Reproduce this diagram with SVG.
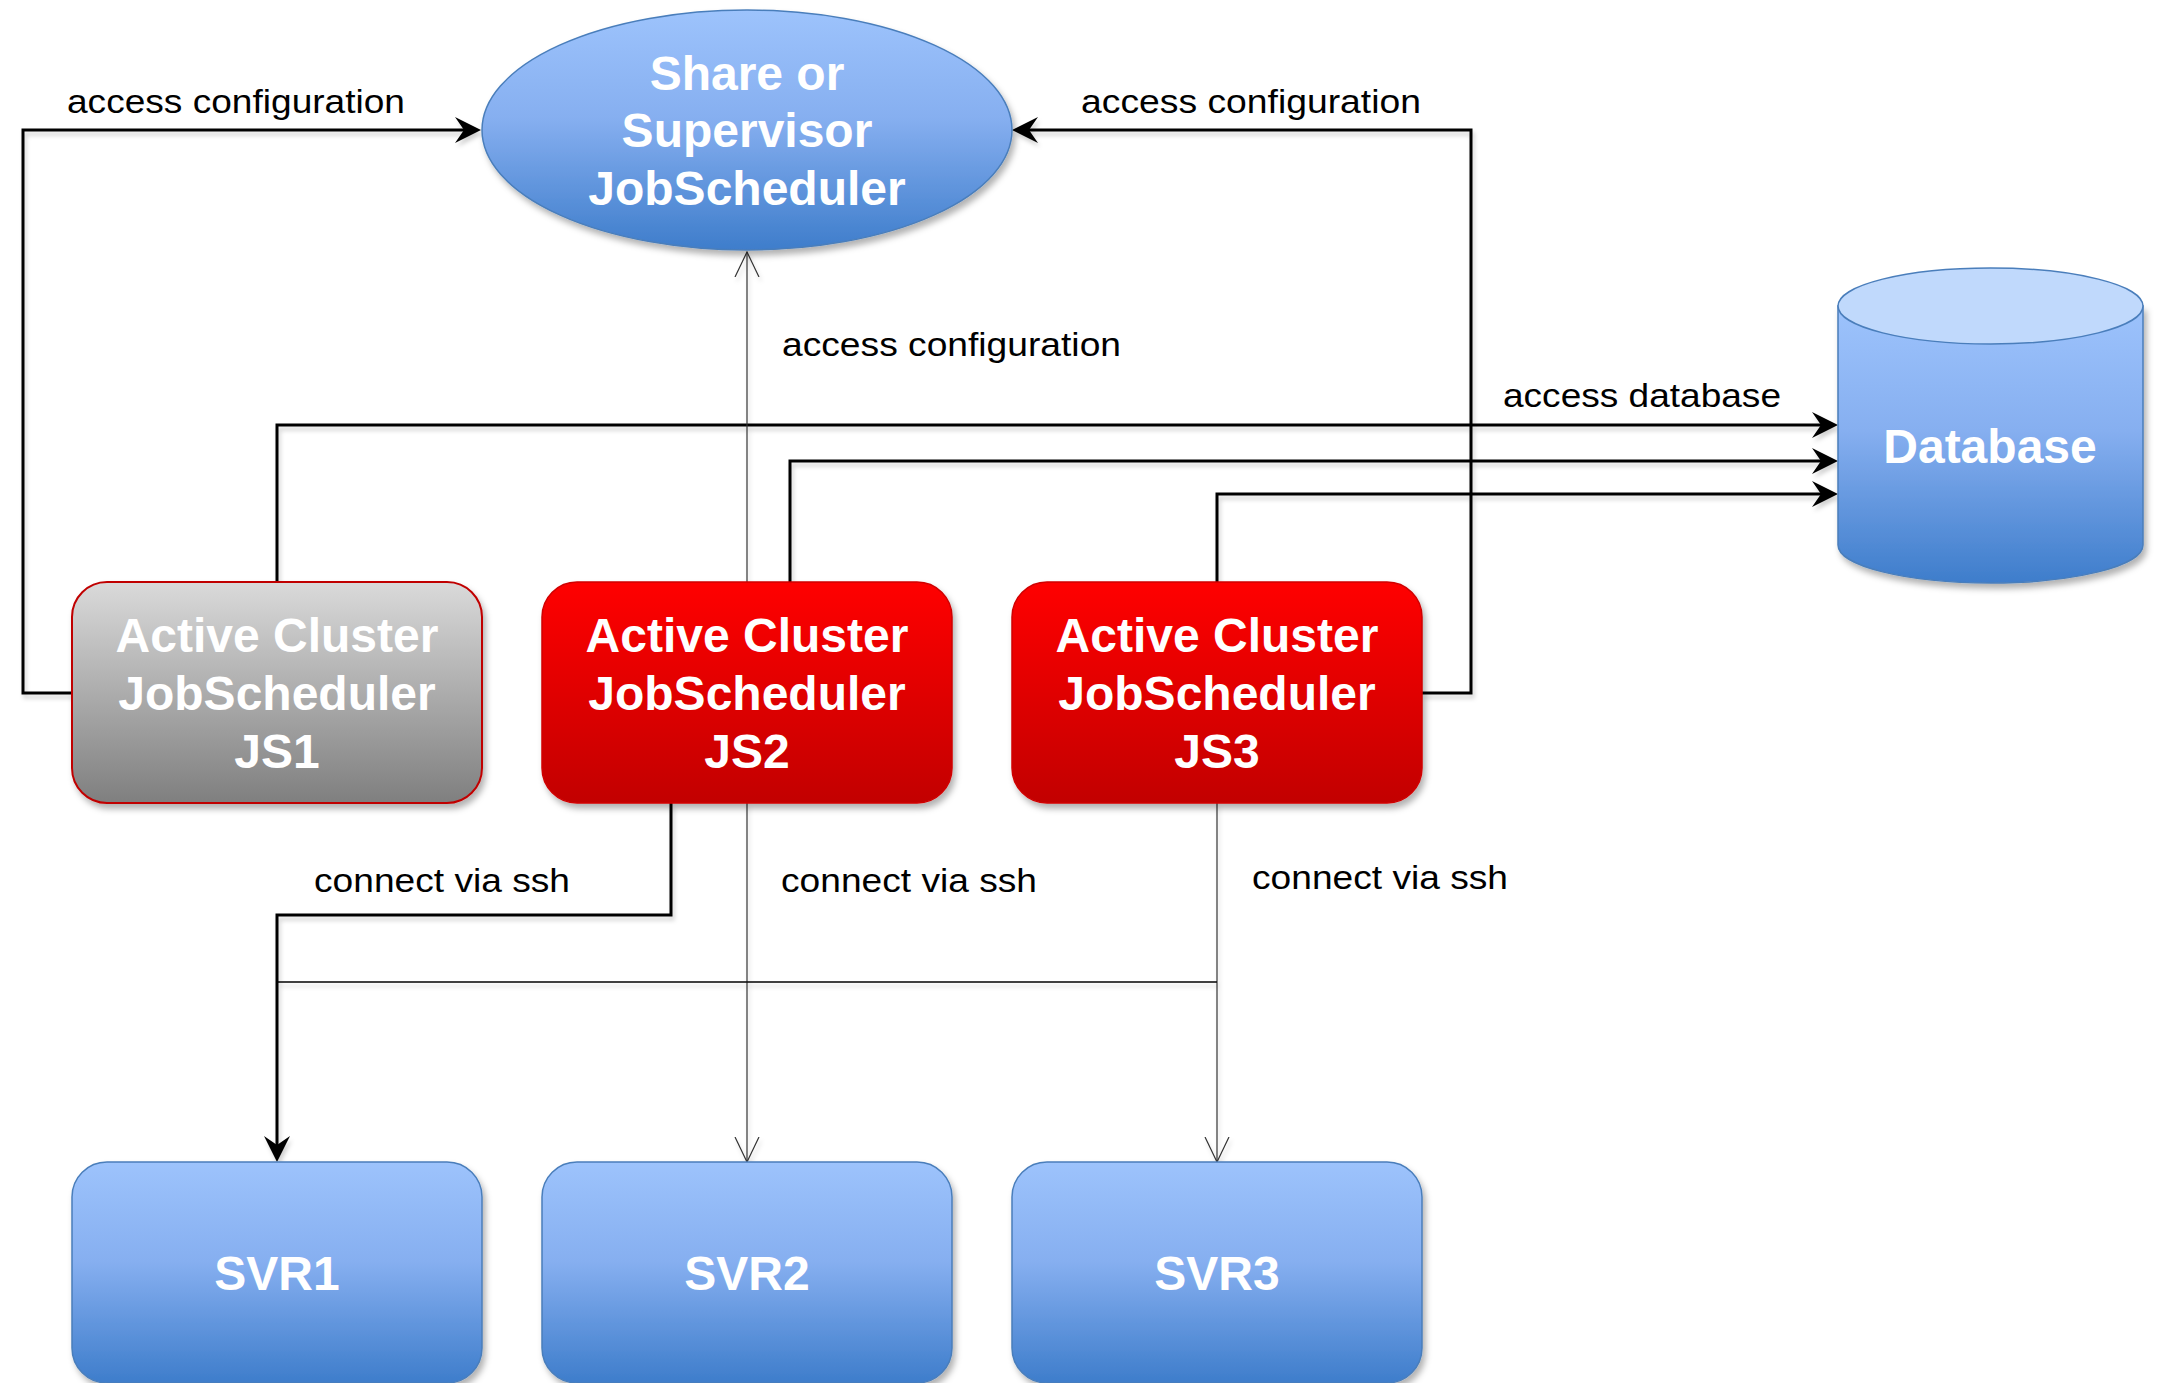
<svg xmlns="http://www.w3.org/2000/svg" width="2159" height="1383" viewBox="0 0 2159 1383">
<defs>
<linearGradient id="gBlue" x1="0" y1="0" x2="0" y2="1"><stop offset="0" stop-color="#9dc3fc"/><stop offset="0.45" stop-color="#86aff0"/><stop offset="1" stop-color="#3e7dcb"/></linearGradient>
<linearGradient id="gGray" x1="0" y1="0" x2="0" y2="1"><stop offset="0" stop-color="#dadada"/><stop offset="1" stop-color="#7f7f7f"/></linearGradient>
<linearGradient id="gRed" x1="0" y1="0" x2="0" y2="1"><stop offset="0" stop-color="#ff0000"/><stop offset="1" stop-color="#c20000"/></linearGradient>
<filter id="sh" x="-10%" y="-10%" width="130%" height="130%"><feDropShadow dx="3" dy="5" stdDeviation="3" flood-color="#000" flood-opacity="0.3"/></filter>
<filter id="lsh" x="-5%" y="-5%" width="110%" height="110%"><feDropShadow dx="2" dy="4" stdDeviation="2" flood-color="#000" flood-opacity="0.18"/></filter>
<marker id="af" markerUnits="userSpaceOnUse" viewBox="0 0 26 26" refX="16" refY="13" markerWidth="26" markerHeight="26" orient="auto"><path d="M0,0 L26,13 L0,26 L9,13 Z" fill="#000"/></marker>
<marker id="ao" markerUnits="userSpaceOnUse" viewBox="0 0 26 26" refX="25" refY="13" markerWidth="26" markerHeight="26" orient="auto"><path d="M0,1 L25,13 L0,25" fill="none" stroke="#333" stroke-width="1.2"/></marker>
<style>
.thick{fill:none;stroke:#000;stroke-width:3}
.thin{fill:none;stroke:#333;stroke-width:1.2}
.lbl{font-family:"Liberation Sans",Arial,sans-serif;font-size:33px;fill:#000}
.bt{font-family:"Liberation Sans",Arial,sans-serif;font-size:48px;font-weight:bold;fill:#fff;text-anchor:middle}
</style>
</defs>
<rect width="2159" height="1383" fill="#fff"/>
<g id="connectors" filter="url(#lsh)">
<path class="thick" d="M277,582 V425 H1828" marker-end="url(#af)"/>
<path class="thick" d="M790,582 V461 H1828" marker-end="url(#af)"/>
<path class="thick" d="M1217,582 V494 H1828" marker-end="url(#af)"/>
<path class="thick" d="M72,693 H23 V130 H471" marker-end="url(#af)"/>
<path class="thick" d="M1422,693 H1471 V130 H1022" marker-end="url(#af)"/>
<path class="thin" d="M747,582 V252" marker-end="url(#ao)"/>
<path class="thick" d="M671,803 V915 H277 V1152" marker-end="url(#af)"/>
<path class="thin" d="M747,803 V1162" marker-end="url(#ao)"/>
<path class="thin" d="M1217,803 V1162" marker-end="url(#ao)"/>
<path d="M277,982 H1217" fill="none" stroke="#000" stroke-width="1.6"/>
</g>
<g id="labels">
<text class="lbl" x="67" y="113" textLength="338" lengthAdjust="spacingAndGlyphs">access configuration</text>
<text class="lbl" x="1081" y="113" textLength="340" lengthAdjust="spacingAndGlyphs">access configuration</text>
<text class="lbl" x="782" y="356" textLength="339" lengthAdjust="spacingAndGlyphs">access configuration</text>
<text class="lbl" x="1503" y="407" textLength="278" lengthAdjust="spacingAndGlyphs">access database</text>
<text class="lbl" x="314" y="892" textLength="256" lengthAdjust="spacingAndGlyphs">connect via ssh</text>
<text class="lbl" x="781" y="892" textLength="256" lengthAdjust="spacingAndGlyphs">connect via ssh</text>
<text class="lbl" x="1252" y="889" textLength="256" lengthAdjust="spacingAndGlyphs">connect via ssh</text>
</g>
<g id="supervisor">
<ellipse cx="747" cy="130" rx="265" ry="120" fill="url(#gBlue)" stroke="#4a7ebb" stroke-width="1.5" filter="url(#sh)"/>
<text class="bt" x="747" y="90">Share or</text>
<text class="bt" x="747" y="147">Supervisor</text>
<text class="bt" x="747" y="205">JobScheduler</text>
</g>
<g id="database">
<path d="M1838,306 V545 A152.5,38 0 0 0 2143,545 V306 Z" fill="url(#gBlue)" stroke="#4a7ebb" stroke-width="1.5" filter="url(#sh)"/>
<ellipse cx="1990.5" cy="306" rx="152.5" ry="38" fill="#c0d9fc" stroke="#4a7ebb" stroke-width="1.5"/>
<text class="bt" x="1990" y="463">Database</text>
</g>
<g id="js1">
<rect x="72" y="582" width="410" height="221" rx="35" fill="url(#gGray)" stroke="#c00000" stroke-width="2" filter="url(#sh)"/>
<text class="bt" x="277" y="652">Active Cluster</text>
<text class="bt" x="277" y="710">JobScheduler</text>
<text class="bt" x="277" y="768">JS1</text>
</g>
<g id="js2">
<rect x="542" y="582" width="410" height="221" rx="35" fill="url(#gRed)" stroke="#d00000" stroke-width="1.5" filter="url(#sh)"/>
<text class="bt" x="747" y="652">Active Cluster</text>
<text class="bt" x="747" y="710">JobScheduler</text>
<text class="bt" x="747" y="768">JS2</text>
</g>
<g id="js3">
<rect x="1012" y="582" width="410" height="221" rx="35" fill="url(#gRed)" stroke="#d00000" stroke-width="1.5" filter="url(#sh)"/>
<text class="bt" x="1217" y="652">Active Cluster</text>
<text class="bt" x="1217" y="710">JobScheduler</text>
<text class="bt" x="1217" y="768">JS3</text>
</g>
<g id="svr1">
<rect x="72" y="1162" width="410" height="221" rx="35" fill="url(#gBlue)" stroke="#4a7ebb" stroke-width="1.5" filter="url(#sh)"/>
<text class="bt" x="277" y="1290">SVR1</text>
</g>
<g id="svr2">
<rect x="542" y="1162" width="410" height="221" rx="35" fill="url(#gBlue)" stroke="#4a7ebb" stroke-width="1.5" filter="url(#sh)"/>
<text class="bt" x="747" y="1290">SVR2</text>
</g>
<g id="svr3">
<rect x="1012" y="1162" width="410" height="221" rx="35" fill="url(#gBlue)" stroke="#4a7ebb" stroke-width="1.5" filter="url(#sh)"/>
<text class="bt" x="1217" y="1290">SVR3</text>
</g>
</svg>
